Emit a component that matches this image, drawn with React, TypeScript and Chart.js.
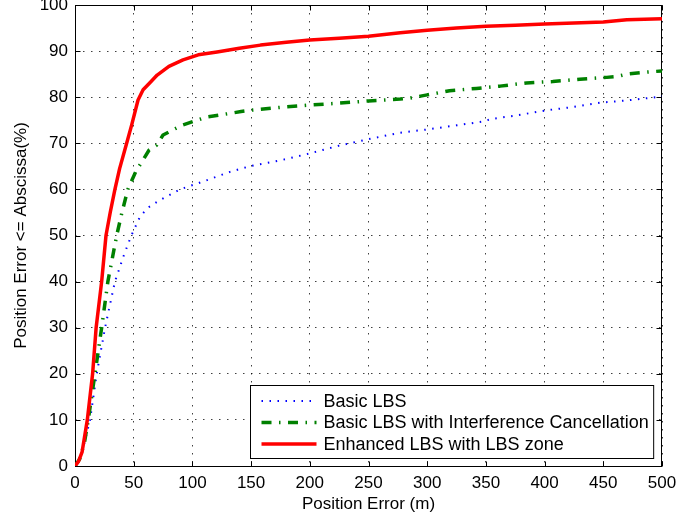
import { useEffect, useRef } from "react";
import { Chart, registerables } from "chart.js";

Chart.register(...registerables);

// Cumulative distribution of position error for three LBS schemes.
const basicX = [0, 4, 8, 12.8, 18.5, 25.6, 34, 42, 48, 55.4, 62, 72.4, 89.4, 109, 132, 150, 175, 200, 225, 250, 277, 300, 325, 347, 355, 375, 400, 425, 447, 470, 495, 500];
const basicY = [0, 1.5, 5, 10, 20, 30, 40, 46, 50, 54.1, 56, 57.7, 60, 61.7, 63.8, 65.1, 66.3, 67.8, 69.5, 70.9, 72.3, 73.0, 73.9, 74.7, 75.3, 76.0, 77.1, 77.9, 78.8, 79.3, 80.0, 80.2];

const cancelX = [0, 4, 8, 11.3, 17, 22.7, 28, 35.5, 40, 45, 52, 57, 63, 69.6, 75, 84, 92, 112, 130, 141.5, 150, 175, 200, 225, 250, 277, 285, 300, 319, 342, 362, 384.5, 407, 430, 453, 462, 470, 485, 500];
const cancelY = [0, 1.5, 5, 10, 20, 30, 40, 50, 55, 60, 64, 66, 68.5, 69.6, 71.8, 73, 74, 75.7, 76.4, 76.9, 77.2, 77.8, 78.3, 78.7, 79.2, 79.6, 79.8, 80.5, 81.4, 81.9, 82.4, 83.1, 83.4, 83.9, 84.3, 84.5, 85.0, 85.4, 85.7];

const enhancedX = [0, 3, 6, 10.5, 15, 18, 22.7, 26.4, 30, 34, 38, 44, 48.3, 53.7, 58, 64, 70, 80, 92, 105, 121, 140, 158, 180, 200, 225, 250, 277, 300, 325, 350, 375, 400, 425, 450, 470, 485, 500];
const enhancedY = [0, 1, 3, 10, 20, 30, 40, 50, 55, 60, 64.5, 70, 74, 79.4, 81.6, 83.2, 84.8, 86.7, 88.1, 89.2, 89.8, 90.6, 91.3, 91.9, 92.4, 92.8, 93.2, 94.0, 94.5, 95.0, 95.4, 95.6, 95.9, 96.1, 96.3, 96.8, 96.9, 97.0];

const seriesLabels = [
  "Basic LBS",
  "Basic LBS with Interference Cancellation",
  "Enhanced LBS with LBS zone",
];
const xTitle = "Position Error (m)";
const yTitle = "Position Error <= Abscissa(%)";
const xRange = [0, 500];
const yRange = [0, 100];
const xStep = 50;
const yStep = 10;

const FONT_FAMILY = '"Liberation Sans", Arial, Helvetica, sans-serif';

const toPoints = (xs: number[], ys: number[]) => xs.map((x, i) => ({ x, y: ys[i] }));

// Box, inward tick marks and an inset legend in the classic plotting style.
const framePlugin = {
  id: "boxedFrame",
  beforeDatasetsDraw(chart: any) {
    const { ctx, chartArea: a, scales } = chart;
    const L = Math.round(a.left) + 0.5;
    const R = Math.round(a.right) - 0.5;
    const T = Math.round(a.top) + 0.5;
    const B = Math.round(a.bottom) + 0.5;
    const len = 5;
    ctx.save();
    ctx.strokeStyle = "#000";
    ctx.lineWidth = 1;
    ctx.setLineDash([]);
    ctx.strokeRect(L, T, R - L, B - T);
    ctx.beginPath();
    for (const t of scales.x.ticks) {
      const px = Math.round(scales.x.getPixelForValue(t.value)) + 0.5;
      ctx.moveTo(px, B);
      ctx.lineTo(px, B - len);
      ctx.moveTo(px, T);
      ctx.lineTo(px, T + len);
    }
    for (const t of scales.y.ticks) {
      const py = Math.round(scales.y.getPixelForValue(t.value)) + 0.5;
      ctx.moveTo(L, py);
      ctx.lineTo(L + len, py);
      ctx.moveTo(R, py);
      ctx.lineTo(R - len, py);
    }
    ctx.stroke();
    ctx.restore();
  },
  afterDatasetsDraw(chart: any) {
    const { ctx, chartArea: a } = chart;
    const datasets = chart.data.datasets;
    ctx.save();
    ctx.font = `18px ${FONT_FAMILY}`;
    const textW = Math.max(...datasets.map((d: any) => ctx.measureText(d.label).width));
    const padL = 11;
    const sampleLen = 55;
    const gap = 7;
    const padR = 5;
    const w = padL + sampleLen + gap + textW + padR;
    const h = 73;
    const right = a.right - 9;
    const bottom = a.bottom - 8;
    const left = Math.round(right - w) + 0.5;
    const top = Math.round(bottom - h) + 0.5;
    ctx.fillStyle = "#fff";
    ctx.fillRect(left, top, w, h);
    ctx.strokeStyle = "#000";
    ctx.lineWidth = 1;
    ctx.strokeRect(left, top, w, h);
    datasets.forEach((d: any, i: number) => {
      const y = top + 15.5 + i * 21.5;
      ctx.beginPath();
      ctx.setLineDash(d.borderDash || []);
      ctx.lineDashOffset = 0;
      ctx.lineWidth = d.borderWidth;
      ctx.strokeStyle = d.borderColor;
      ctx.moveTo(left + padL, y);
      ctx.lineTo(left + padL + sampleLen, y);
      ctx.stroke();
      ctx.setLineDash([]);
      ctx.fillStyle = "#000";
      ctx.textBaseline = "middle";
      ctx.textAlign = "left";
      ctx.fillText(d.label, left + padL + sampleLen + gap, y + 1);
    });
    ctx.restore();
  },
};

function stripPadding(scale: any) {
  scale.paddingLeft = 0;
  scale.paddingRight = 0;
  scale.paddingTop = 0;
  scale.paddingBottom = 0;
}

export default function App() {
  const canvasRef = useRef<HTMLCanvasElement | null>(null);

  useEffect(() => {
    const canvas = canvasRef.current;
    if (!canvas) return;
    const tickFont = { family: FONT_FAMILY, size: 17 };
    const gridStyle = { color: "rgba(0,0,0,0.75)", lineWidth: 1, drawTicks: false };
    const chart = new Chart(canvas, {
      type: "line",
      data: {
        datasets: [
          {
            label: seriesLabels[0],
            data: toPoints(basicX, basicY),
            borderColor: "#0000ff",
            borderWidth: 2,
            borderDash: [1.5, 6.5],
            pointRadius: 0,
            fill: false,
            order: 3,
          },
          {
            label: seriesLabels[1],
            data: toPoints(cancelX, cancelY),
            borderColor: "#008000",
            borderWidth: 3.5,
            borderDash: [10, 7.5, 1.5, 7.5],
            pointRadius: 0,
            fill: false,
            order: 2,
          },
          {
            label: seriesLabels[2],
            data: toPoints(enhancedX, enhancedY),
            borderColor: "#ff0000",
            borderWidth: 3.5,
            pointRadius: 0,
            fill: false,
            order: 1,
          },
        ],
      },
      options: {
        responsive: false,
        maintainAspectRatio: false,
        animation: false,
        layout: { padding: { left: 0, right: 16, top: 5, bottom: 0 } },
        elements: { line: { tension: 0, borderJoinStyle: "round" } },
        plugins: { legend: { display: false }, tooltip: { enabled: false } },
        scales: {
          x: {
            type: "linear",
            min: xRange[0],
            max: xRange[1],
            ticks: { stepSize: xStep, padding: 7, color: "#000", font: tickFont, maxRotation: 0 },
            grid: gridStyle,
            border: { display: false, dash: [1.5, 6.5] },
            title: {
              display: true,
              text: xTitle,
              color: "#000",
              font: { family: FONT_FAMILY, size: 17 },
              padding: { top: 0, bottom: 8 },
            },
            afterFit(scale: any) {
              scale.height = 57;
              stripPadding(scale);
            },
          },
          y: {
            type: "linear",
            min: yRange[0],
            max: yRange[1],
            ticks: { stepSize: yStep, padding: 7, color: "#000", font: tickFont },
            grid: gridStyle,
            border: { display: false, dash: [1.5, 6.5] },
            title: {
              display: true,
              text: yTitle,
              color: "#000",
              font: { family: FONT_FAMILY, size: 17 },
              padding: { top: 11, bottom: 0 },
            },
            afterFit(scale: any) {
              scale.width = 75;
              stripPadding(scale);
            },
          },
        },
      },
      plugins: [framePlugin],
    } as any);
    return () => chart.destroy();
  }, []);

  return (
    <div style={{ position: "absolute", left: 0, top: 0, width: 678, height: 523, background: "#fff" }}>
      <canvas ref={canvasRef} width={678} height={523} style={{ width: 678, height: 523, display: "block" }} />
    </div>
  );
}
